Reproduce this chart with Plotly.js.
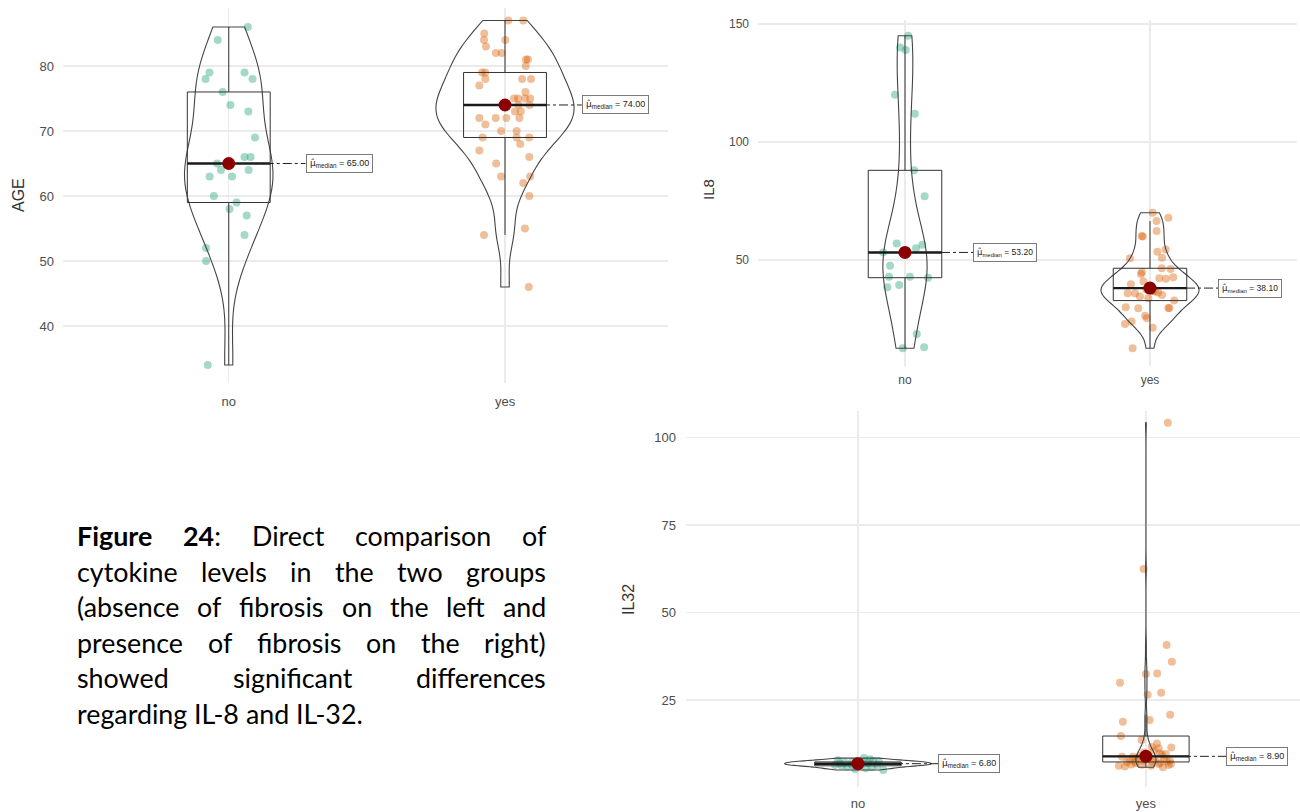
<!DOCTYPE html>
<html>
<head>
<meta charset="utf-8">
<script src="https://cdn.plot.ly/plotly-3.0.1.min.js"></script>
<style>
  html, body { margin: 0; padding: 0; background: #ffffff; }
  #chart { width: 1300px; height: 812px; }
</style>
</head>
<body>
<div id="chart"></div>
<script>
// Groups: absence (no) / presence (yes) of fibrosis
const groups = ['no', 'yes'];

// AGE
const ageNo = [86, 84, 79, 79, 78, 78, 76, 74, 73, 69, 66, 66, 65, 64, 64, 63, 63, 60, 59, 58, 57, 54, 52, 50, 34];
const ageNoJitter = [0.069, -0.040, -0.070, 0.057, -0.084, 0.086, -0.022, 0.006, 0.071, 0.095, 0.057, 0.079, -0.042, -0.028, 0.072, -0.069, 0.012, -0.054, 0.028, 0.003, 0.065, 0.057, -0.082, -0.082, -0.076];
const ageYes = [87, 87, 85, 84, 84, 83, 82, 82, 81, 81, 80, 79, 79, 78, 78, 78, 77, 76, 75, 75, 75, 75, 74, 74, 73, 73, 72, 72, 72, 72, 71, 70, 70, 69, 69, 69, 68, 67, 66, 65, 63, 63, 62, 60, 55, 54, 46];
const ageYesJitter = [0.012, 0.066, -0.075, -0.076, 0.001, -0.069, -0.033, -0.012, 0.076, 0.083, 0.075, -0.072, -0.083, -0.071, 0.062, 0.094, -0.093, 0.074, 0.033, 0.047, 0.072, 0.091, 0.049, 0.089, 0.036, 0.057, -0.093, -0.034, 0.005, 0.052, -0.071, -0.014, 0.042, -0.081, 0.088, 0.042, 0.055, -0.093, 0.088, -0.032, -0.014, 0.091, 0.066, 0.088, 0.072, -0.076, 0.086];

// IL8
const il8No = [145, 140, 139, 120, 112, 88, 77, 57, 56.5, 55, 53.2, 53.2, 47.6, 42.9, 42.9, 42.5, 39.4, 38.4, 18.6, 13, 12.6];
const il8NoJitter = [0.013, -0.020, 0.003, -0.041, 0.040, 0.037, 0.080, -0.034, 0.071, 0.045, -0.089, 0, -0.061, -0.065, 0.020, 0.094, -0.024, -0.072, 0.048, 0.078, -0.009];
const il8Yes = [70.0, 67.9, 66.5, 62.3, 60.2, 60.0, 54.5, 53.5, 51.0, 50.7, 46.5, 46.2, 44.8, 44.1, 42.7, 42.3, 42.0, 41.0, 39.7, 39.0, 38.1, 37.6, 37.0, 36.6, 36.2, 35.9, 35.9, 35.2, 34.5, 33.8, 32.8, 30.0, 29.7, 29.7, 29.5, 26.4, 25.3, 23.9, 22.9, 21.3, 12.6];
const il8YesJitter = [0.011, 0.075, 0.027, 0.027, -0.034, -0.029, 0.064, 0.030, 0.049, -0.082, 0.048, 0.084, -0.033, -0.037, 0.095, 0.038, 0.065, -0.027, -0.078, -0.008, 0, -0.016, 0.012, 0.020, 0.033, -0.091, -0.061, 0.049, -0.041, -0.007, 0.099, -0.099, 0.075, 0.079, -0.048, -0.020, -0.013, -0.075, -0.102, 0.011, -0.071];

// IL32
const il32No = [5.0, 5.3, 5.5, 5.8, 6.0, 6.2, 6.4, 6.4, 6.5, 6.6, 6.8, 6.9, 7.0, 7.1, 7.3, 7.3, 7.5, 7.6, 7.8, 8.1, 8.4];
const il32NoJitter = [0.088, -0.010, 0.027, 0.049, -0.037, -0.056, -0.080, 0.067, -0.021, 0.010, 0, -0.063, 0.035, -0.045, -0.020, 0.015, 0.073, 0.053, -0.069, 0.042, 0.021];
const il32Yes = [104.2, 62.4, 40.7, 35.9, 32.6, 32.4, 29.9, 27.1, 26.5, 20.8, 19.3, 18.8, 14.7, 13.6, 12.6, 11.6, 11.4, 11.2, 10.5, 10.0, 9.8, 9.6, 9.3, 9.0, 8.9, 8.8, 8.8, 8.6, 8.4, 8.2, 8.0, 7.9, 7.7, 7.6, 7.4, 7.4, 7.3, 7.2, 7.0, 6.9, 6.8, 6.7, 6.6, 6.5, 6.4, 6.2, 6.2, 6.0, 5.8];
const il32YesJitter = [0.076, -0.008, 0.072, 0.090, 0.039, 0, -0.090, 0.053, 0.006, 0.084, 0.013, -0.080, -0.087, -0.015, 0.038, 0.020, 0.088, 0.044, 0.028, -0.007, 0.049, 0.069, 0.056, -0.021, 0, -0.083, -0.045, 0.010, -0.028, 0.063, 0.031, -0.056, 0.083, -0.010, 0.073, -0.038, 0.021, -0.066, 0.049, -0.036, 0.087, 0.044, -0.051, -0.014, 0.079, -0.094, 0.018, -0.073, 0.059];

// Caption
const captionLines = [
  ['<b>Figure</b>', '<b>24</b>:', 'Direct', 'comparison', 'of'],
  ['cytokine', 'levels', 'in', 'the', 'two', 'groups'],
  ['(absence', 'of', 'fibrosis', 'on', 'the', 'left', 'and'],
  ['presence', 'of', 'fibrosis', 'on', 'the', 'right)'],
  ['showed', 'significant', 'differences'],
  ['regarding', 'IL-8', 'and', 'IL-32.']
];

// ---------- statistics (R type-7 quantiles, bw.nrd0) ----------
function sortedCopy(v) { return v.slice().sort((a, b) => a - b); }
function quantile7(s, p) {
  const h = (s.length - 1) * p, lo = Math.floor(h);
  return lo + 1 < s.length ? s[lo] + (h - lo) * (s[lo + 1] - s[lo]) : s[lo];
}
function boxStats(v) {
  const s = sortedCopy(v);
  const q1 = quantile7(s, 0.25), med = quantile7(s, 0.5), q3 = quantile7(s, 0.75);
  const iqr = q3 - q1;
  const lo = q1 - 1.5 * iqr, hi = q3 + 1.5 * iqr;
  const lf = s.find(d => d >= lo);
  const uf = s.slice().reverse().find(d => d <= hi);
  return { q1, med, q3, lf, uf, iqr };
}
function bwNrd0(v) {
  const n = v.length;
  const mean = v.reduce((a, b) => a + b, 0) / n;
  const sd = Math.sqrt(v.reduce((a, b) => a + (b - mean) * (b - mean), 0) / (n - 1));
  const st = boxStats(v);
  let lo = Math.min(sd, st.iqr / 1.34);
  if (!lo) lo = sd || 1;
  return 0.9 * lo * Math.pow(n, -0.2);
}

// ---------- page geometry ----------
const W = 1300, H = 812;
const fx = px => px / W;
const fy = py => 1 - py / H;

const GREEN = 'rgba(27,158,119,0.4)';
const ORANGE = 'rgba(217,95,2,0.4)';
const OUTLINE = '#444444';
const BOXLINE = '#333333';
const GRID = '#ebebeb';
const TICK = '#4d4d4d';
const FONT = 'Liberation Sans, Arial, sans-serif';

const BOX_W = 0.3;        // box width in category units
const LABEL_DX = 0.278;   // offset of the median label from the group centre

const panels = [
  { title: 'AGE', sets: [ageNo, ageYes], jit: [ageNoJitter, ageYesJitter], ax: '',
    box: { l: 63, r: 668, t: 8, b: 383 }, xr: [-0.6, 1.59], yr: [31.23, 88.92], dtick: 10,
    vw: [0.32, 0.50], tick: 13, lab: 9, xStand: 9, yStand: 8,
    ttl: { x: 18, y: 195, size: 16 } },
  { title: 'IL8', sets: [il8No, il8Yes], jit: [il8NoJitter, il8YesJitter], ax: '2',
    box: { l: 758, r: 1297, t: 20, b: 366 }, xr: [-0.6, 1.6], yr: [5.08, 151.7], dtick: 50,
    vw: [0.18, 0.40], tick: 12, lab: 8.5, xStand: 5, yStand: 8,
    ttl: { x: 708, y: 190, size: 15 } },
  { title: 'IL32', sets: [il32No, il32Yes], jit: [il32NoJitter, il32YesJitter], ax: '3',
    box: { l: 686, r: 1300, t: 411, b: 787 }, xr: [-0.597, 1.535], yr: [0.14, 107.57], dtick: 25,
    vw: [0.51, 0.07], tick: 13, lab: 9, xStand: 7, yStand: 9,
    ttl: { x: 628, y: 600, size: 16 } }
];

const traces = [];
const annotations = [];
const layout = {
  width: W, height: H,
  margin: { l: 0, r: 0, t: 0, b: 0 },
  paper_bgcolor: '#ffffff', plot_bgcolor: 'rgba(0,0,0,0)',
  showlegend: false, hovermode: false,
  boxmode: 'overlay', violinmode: 'overlay',
  font: { family: FONT, color: TICK }
};

panels.forEach(p => {
  const xa = 'x' + p.ax, ya = 'y' + p.ax;
  layout['xaxis' + p.ax] = {
    domain: [fx(p.box.l), fx(p.box.r)], range: p.xr, anchor: ya,
    tickvals: [0, 1], ticktext: groups, ticks: '', ticklabelstandoff: p.xStand,
    showgrid: true, gridcolor: GRID, gridwidth: 1.2, zeroline: false, showline: false,
    tickfont: { family: FONT, size: p.tick, color: TICK }, fixedrange: true
  };
  layout['yaxis' + p.ax] = {
    domain: [fy(p.box.b), fy(p.box.t)], range: p.yr, anchor: xa,
    dtick: p.dtick, tick0: 0, ticks: '', ticklabelstandoff: p.yStand,
    showgrid: true, gridcolor: GRID, gridwidth: 1.5, zeroline: false, showline: false,
    tickfont: { family: FONT, size: p.tick, color: TICK }, fixedrange: true
  };
  annotations.push({
    xref: 'paper', yref: 'paper', x: fx(p.ttl.x), y: fy(p.ttl.y),
    text: p.title, textangle: -90, showarrow: false,
    xanchor: 'center', yanchor: 'middle',
    font: { family: FONT, size: p.ttl.size, color: '#333333' }
  });

  p.sets.forEach((vals, gi) => {
    const st = boxStats(vals);
    const col = gi === 0 ? GREEN : ORANGE;

    // jittered observations, underneath the outlines
    traces.push({
      type: 'scatter', mode: 'markers', xaxis: xa, yaxis: ya, zorder: -1,
      x: vals.map((v, i) => gi + p.jit[gi][i]), y: vals,
      marker: { color: col, size: 8, line: { width: 0 } }, hoverinfo: 'skip'
    });

    // violin (trimmed to the data range)
    traces.push({
      type: 'violin', xaxis: xa, yaxis: ya, x0: gi, y: vals,
      width: p.vw[gi], spanmode: 'hard', bandwidth: bwNrd0(vals),
      points: false, box: { visible: false }, meanline: { visible: false },
      fillcolor: 'rgba(0,0,0,0)', line: { color: OUTLINE, width: 1.1 },
      hoverinfo: 'skip'
    });

    // box with whiskers at 1.5 IQR
    traces.push({
      type: 'box', xaxis: xa, yaxis: ya, x: [gi],
      q1: [st.q1], median: [st.med], q3: [st.q3],
      lowerfence: [st.lf], upperfence: [st.uf],
      width: BOX_W, whiskerwidth: 0, boxpoints: false,
      fillcolor: 'rgba(0,0,0,0)', line: { color: BOXLINE, width: 1 },
      hoverinfo: 'skip'
    });

    // thick median bar
    traces.push({
      type: 'scatter', mode: 'lines', xaxis: xa, yaxis: ya, zorder: 1,
      x: [gi - BOX_W / 2, gi + BOX_W / 2], y: [st.med, st.med],
      line: { color: '#1a1a1a', width: 2.4 }, hoverinfo: 'skip'
    });

    // leader line to the median label
    traces.push({
      type: 'scatter', mode: 'lines', xaxis: xa, yaxis: ya, zorder: 1,
      x: [gi, gi + LABEL_DX], y: [st.med, st.med],
      line: { color: '#222222', width: 1, dash: 'dashdot' }, hoverinfo: 'skip'
    });

    // median point
    traces.push({
      type: 'scatter', mode: 'markers', xaxis: xa, yaxis: ya, zorder: 2,
      x: [gi], y: [st.med],
      marker: { color: '#8b0000', size: 13, line: { width: 0 } }, hoverinfo: 'skip'
    });

    const subSize = Math.round(p.lab * 0.75 * 10) / 10;
    annotations.push({
      xref: xa, yref: ya, x: gi + LABEL_DX, y: st.med,
      xanchor: 'left', yanchor: 'middle', showarrow: false,
      text: '<span style="font-family:DejaVu Sans">μ\u0302</span>' +
            '<sub style="font-size:' + subSize + 'px">median</sub> = ' + st.med.toFixed(2),
      font: { family: FONT, size: p.lab, color: '#222222' },
      bgcolor: '#ffffff', bordercolor: '#7a7a7a', borderwidth: 1, borderpad: 3
    });
  });
});

// ---------- justified caption ----------
(function addCaption() {
  const left = 76, right = 545, top = 536, lead = 35.6, family = 'Lato';
  const ctx = document.createElement('canvas').getContext('2d');
  function measure(html, size) {
    let w = 0;
    html.split(/(<b>.*?<\/b>)/).forEach(seg => {
      if (!seg) return;
      const bold = seg.startsWith('<b>');
      const txt = seg.replace(/<\/?b>/g, '');
      ctx.font = (bold ? 'bold ' : '') + size + 'px ' + family;
      w += ctx.measureText(txt).width;
    });
    return w;
  }
  const last = captionLines[captionLines.length - 1].join(' ');
  const size = 22 * 286 / measure(last, 22);
  const spaceW = measure(' ', size);
  captionLines.forEach((words, li) => {
    const widths = words.map(w => measure(w, size));
    const total = widths.reduce((a, b) => a + b, 0);
    const isLast = li === captionLines.length - 1;
    const gap = isLast ? spaceW : (right - left - total) / (words.length - 1);
    let x = left;
    words.forEach((w, wi) => {
      annotations.push({
        xref: 'paper', yref: 'paper', x: fx(x), y: fy(top + li * lead),
        xanchor: 'left', yanchor: 'middle', showarrow: false, borderpad: 0,
        text: w, font: { family: family, size: size, color: '#000000' }
      });
      x += widths[wi] + gap;
    });
  });
})();

layout.annotations = annotations;

Plotly.newPlot('chart', traces, layout, { staticPlot: true, displayModeBar: false });
</script>
</body>
</html>
